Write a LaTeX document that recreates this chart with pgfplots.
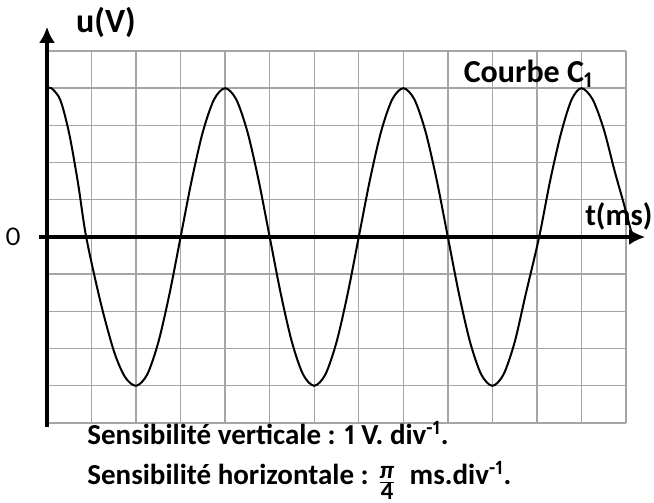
\documentclass[border=0pt]{standalone}
\usepackage{pgfplots}
\pgfplotsset{compat=1.18}
\usepackage{fontspec}
\setmainfont[Numbers=Proportional]{Carlito}
\usetikzlibrary{arrows.meta}
\definecolor{gridgray}{RGB}{165,165,165}
\begin{document}
\begin{tikzpicture}
\useasboundingbox (-23.5pt,-40pt) rectangle (303.5pt,211.5pt);
\begin{axis}[
  at={(0,0)}, anchor=south west,
  scale only axis, width=289.5pt, height=186pt,
  xmin=0, xmax=13, ymin=-5, ymax=5,
  xtick={0,...,13}, ytick={-5,...,5},
  xticklabels={}, yticklabels={},
  major tick length=0pt,
  grid=major,
  grid style={gridgray, line width=0.7pt},
  axis line style={draw=none},
  clip=false,
]
\addplot[black, line width=1pt, smooth, tension=0.5] coordinates {
(0,4) (0.1,4) (0.3,3.68) (0.5,2.77) (0.7,1.42) (0.88,0)
(1.2,-1.74) (1.5,-3.06) (1.75,-3.76) (2,-4)
(2.25,-3.6955) (2.5,-2.8284) (2.75,-1.5307) (3,0)
(3.25,1.5307) (3.5,2.8284) (3.75,3.6955) (4,4)
(4.25,3.6955) (4.5,2.8284) (4.75,1.5307) (5,0)
(5.25,-1.5307) (5.5,-2.8284) (5.75,-3.6955) (6,-4)
(6.25,-3.6955) (6.5,-2.8284) (6.75,-1.5307) (7,0)
(7.25,1.5307) (7.5,2.8284) (7.75,3.6955) (8,4)
(8.25,3.6955) (8.5,2.8284) (8.75,1.5307) (9,0)
(9.25,-1.5307) (9.5,-2.8284) (9.75,-3.6955) (10,-4)
(10.25,-3.6955) (10.5,-2.8284) (10.75,-1.5307) (11.05,0)
(11.3,1.5307) (11.55,2.8284) (11.78,3.6955) (12,4)
(12.25,3.7) (12.5,2.9) (12.75,1.75) (12.95,0.9) (13.15,0)
};
\draw[line width=2pt, -{Latex[length=8pt,width=8pt]}] (axis cs:-0.18,0) -- (axis cs:13.43,0);
\draw[line width=2pt, -{Latex[length=8pt,width=8pt]}] (axis cs:0,-5.1) -- (axis cs:0,5.65);
\node[anchor=east, font=\fontsize{13.5}{16}\selectfont] at (axis cs:-0.25,0) [xshift=-4pt] {0};
\node[font=\fontsize{15.4}{18}\selectfont\bfseries] at (axis cs:12.84,0.55) {t(ms)};
\node[anchor=base west, font=\fontsize{16}{19}\selectfont\bfseries] at (axis cs:9.2,4.16) {Courbe C\textsubscript{1}};
\end{axis}
\node[font=\fontsize{17}{20}\selectfont\bfseries] at (29.5pt,200.5pt) {u(V)};
\node[anchor=base west, font=\fontsize{14.5}{17}\selectfont\bfseries, inner sep=0pt] at (20pt,-11pt) {Sensibilité verticale : 1 V. div\textsuperscript{-1}.};
\node[anchor=base west, font=\fontsize{14.5}{17}\selectfont\bfseries, inner sep=0pt] at (20pt,-31pt) {Sensibilité horizontale : \raisebox{-0.15em}{$\frac{\mbox{\fontsize{12.5}{13}\selectfont\bfseries\itshape π}}{\mbox{\fontsize{12.5}{13}\selectfont\bfseries 4}}$}\ \ ms.div\textsuperscript{-1}.};
\end{tikzpicture}
\end{document}
